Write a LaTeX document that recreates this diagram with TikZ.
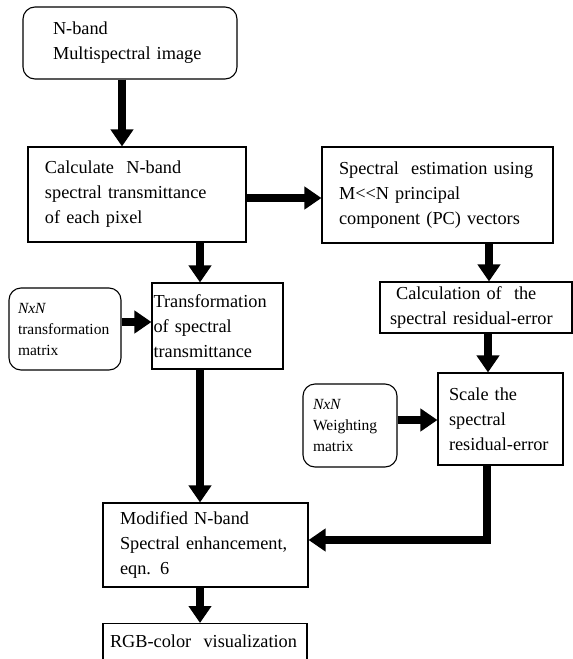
\documentclass[tikz,border=0pt]{standalone}
\usepackage{fontspec}
\setmainfont{Liberation Serif}
\usetikzlibrary{arrows.meta}
\tikzset{
  box/.style={draw, line width=1.1pt, inner ysep=0pt, align=left,
    font=\fontsize{18.3}{25}\selectfont},
  rbox/.style={box, rounded corners=12pt, font=\fontsize{15.5}{21}\selectfont},
  arr/.style={line width=8pt, -{Triangle[width=22pt,length=17pt]}}
}
\begin{document}
\begin{tikzpicture}[x=1pt,y=-1pt]
\clip (0,0) rectangle (573,659);
\fill[white] (0,0) rectangle (573,659);
% boxes
\node[box, rounded corners=12pt, text width=154pt, inner xsep=30pt, minimum height=72pt] (img) at (130,43)
  {N-band\\\mbox{Multispectral image}};
\node[box, text width=184pt, inner xsep=17pt, minimum height=95pt] (calc) at (137,194.5)
  {Calculate \ N-band\\\mbox{spectral transmittance}\\of each pixel};
\node[box, text width=197pt, inner xsep=17pt, minimum height=96pt] (est) at (437.5,195)
  {\mbox{Spectral \ estimation using}\\M{<}{<}N principal\\\mbox{component (PC) vectors}\\[6pt]};
\node[box, text width=172pt, inner xsep=10pt, minimum height=51pt] (res) at (476,307.5)
  {\ Calculation of \ the\\\mbox{spectral residual-error}\\[4pt]};
\node[box, text width=103pt, inner xsep=11pt, minimum height=92pt] (scale) at (500.5,419)
  {Scale the\\spectral\\\mbox{residual-error}};
\node[rbox, text width=74pt, inner xsep=10pt, minimum height=83pt] (wgt) at (350,425.5)
  {\textit{NxN}\\Weighting\\matrix};
\node[box, text width=128pt, inner xsep=1.5pt, minimum height=86pt] (trans) at (217.5,326)
  {Transformation\\of spectral\\transmittance};
\node[rbox, text width=94pt, inner xsep=9pt, minimum height=82pt] (nxn) at (65,329)
  {\textit{NxN}\\\mbox{transformation}\\matrix};
\node[box, text width=171pt, inner xsep=17pt, minimum height=84pt] (mod) at (205.5,545)
  {Modified N-band\\\mbox{Spectral enhancement,}\\eqn. 6};
\node[box, anchor=north, text width=190pt, inner xsep=7pt, inner ysep=11.4pt,
  text height=12.6pt, text depth=40pt] (rgb) at (205,623)
  {\mbox{RGB-color \ visualization}};
% helper coordinates
\coordinate (x122) at (122,0);
\coordinate (x200) at (200,0);
\coordinate (x487) at (487,0);
\coordinate (x488) at (488,0);
\coordinate (x489) at (489,0);
\coordinate (y198) at (0,198);
\coordinate (y322) at (0,322);
\coordinate (y420) at (0,420);
\coordinate (y540) at (0,540);
% connectors
\draw[arr] (img.south -| x122) -- (calc.north -| x122);
\draw[arr] (calc.east |- y198) -- (est.west |- y198);
\draw[arr] (calc.south -| x200) -- (trans.north -| x200);
\draw[arr] (est.south -| x489) -- (res.north -| x489);
\draw[arr] (res.south -| x488) -- (scale.north -| x488);
\draw[arr] (wgt.east |- y420) -- (scale.west |- y420);
\draw[arr] (nxn.east |- y322) -- (trans.west |- y322);
\draw[arr] (trans.south -| x200) -- (mod.north -| x200);
\draw[arr] (scale.south -| x487) |- (mod.east |- y540);
\draw[arr] (mod.south -| x200) -- (rgb.north -| x200);
\end{tikzpicture}
\end{document}
